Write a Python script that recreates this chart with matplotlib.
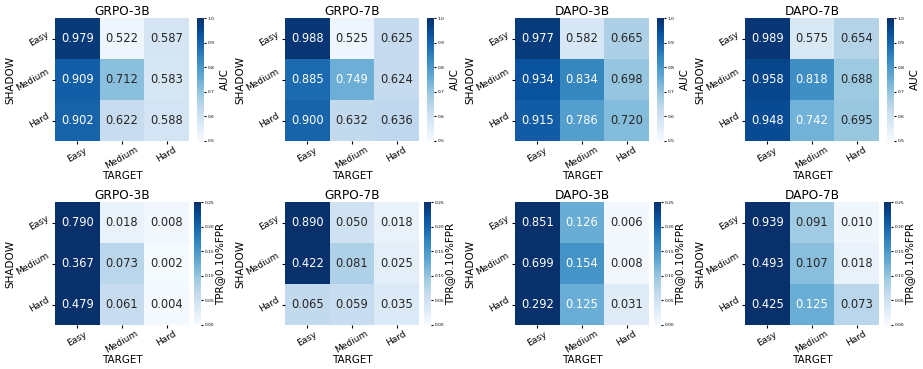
import numpy as np
import matplotlib
matplotlib.use("Agg")
import matplotlib.pyplot as plt
import seaborn as sns

levels = ["Easy", "Medium", "Hard"]
titles = ["GRPO-3B", "GRPO-7B", "DAPO-3B", "DAPO-7B"]

auc_grpo3b = [[0.979, 0.522, 0.587], [0.909, 0.712, 0.583], [0.902, 0.622, 0.588]]
auc_grpo7b = [[0.988, 0.525, 0.625], [0.885, 0.749, 0.624], [0.900, 0.632, 0.636]]
auc_dapo3b = [[0.977, 0.582, 0.665], [0.934, 0.834, 0.698], [0.915, 0.786, 0.720]]
auc_dapo7b = [[0.989, 0.575, 0.654], [0.958, 0.818, 0.688], [0.948, 0.742, 0.695]]

tpr_grpo3b = [[0.790, 0.018, 0.008], [0.367, 0.073, 0.002], [0.479, 0.061, 0.004]]
tpr_grpo7b = [[0.890, 0.050, 0.018], [0.422, 0.081, 0.025], [0.065, 0.059, 0.035]]
tpr_dapo3b = [[0.851, 0.126, 0.006], [0.699, 0.154, 0.008], [0.292, 0.125, 0.031]]
tpr_dapo7b = [[0.939, 0.091, 0.010], [0.493, 0.107, 0.018], [0.425, 0.125, 0.073]]

rows = [
    ([auc_grpo3b, auc_grpo7b, auc_dapo3b, auc_dapo7b], "AUC", 0.5, 1.0),
    ([tpr_grpo3b, tpr_grpo7b, tpr_dapo3b, tpr_dapo7b], "TPR@0.10%FPR", 0.0, 0.25),
]

W, H = 923, 369
fig = plt.figure(figsize=(W / 100, H / 100), dpi=100)

x0s = [55, 285, 515, 745]
y_tops = [18, 202]
hm_w, hm_h = 134, 123
cb_gaps = [8, 5]
cb_pads = [4, 1]
cb_w = 7

for r, (mats, label, vmin, vmax) in enumerate(rows):
    for c, mat in enumerate(mats):
        x0 = x0s[c]
        yt = y_tops[r]
        ax = fig.add_axes([x0 / W, 1 - (yt + hm_h) / H, hm_w / W, hm_h / H])
        cax = fig.add_axes([(x0 + hm_w + cb_gaps[r]) / W, 1 - (yt + hm_h) / H, cb_w / W, hm_h / H])
        sns.heatmap(np.array(mat), ax=ax, cbar_ax=cax, cmap="Blues", vmin=vmin, vmax=vmax,
                    annot=True, fmt=".3f", annot_kws={"size": 8.3},
                    xticklabels=levels, yticklabels=levels)
        ax.set_title(titles[c], fontsize=8.7, pad=2)
        ax.set_xlabel("TARGET", fontsize=7.5, labelpad=0)
        ax.set_ylabel("SHADOW", fontsize=7.5, labelpad=0)
        ax.tick_params(axis="both", labelsize=6.5, pad=1, length=2)
        plt.setp(ax.get_xticklabels(), rotation=30)
        plt.setp(ax.get_yticklabels(), rotation=30, va="center")
        cax.tick_params(labelsize=3.2, length=1.5, pad=1)
        cax.set_ylabel(label, fontsize=7.5, labelpad=cb_pads[r])

fig.savefig("out.png", dpi=100)
